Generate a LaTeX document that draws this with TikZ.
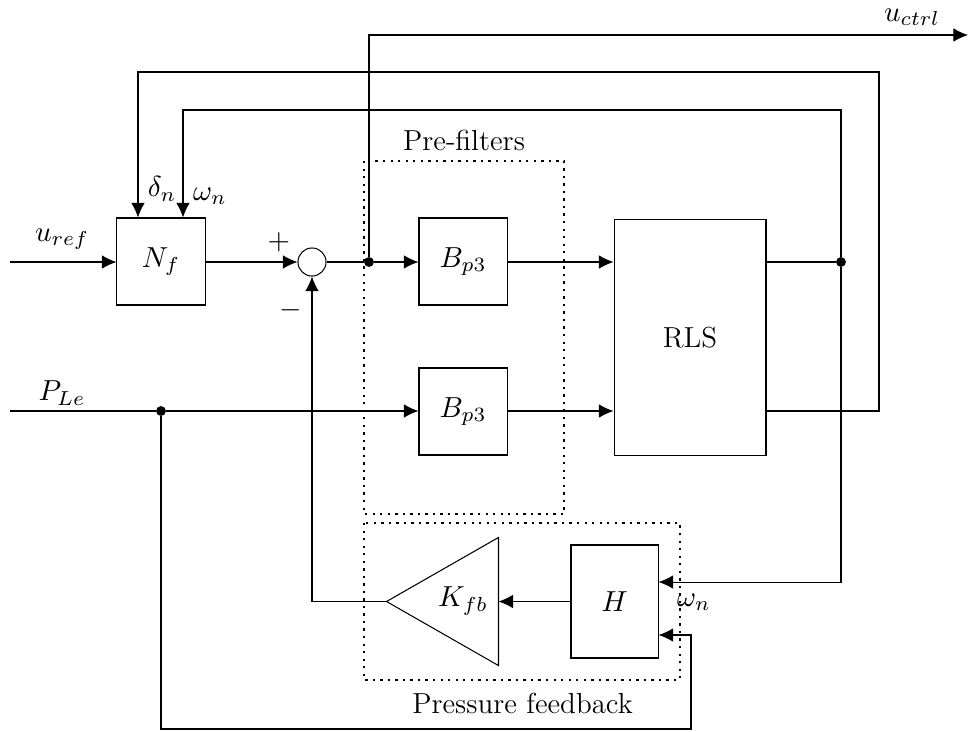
\RequirePackage{fix-cm}
\documentclass[tikz,border=0pt]{standalone}
\usetikzlibrary{arrows.meta,calc}
\begin{document}
\begin{tikzpicture}[x=0.385pt,y=-0.385pt,
  every node/.append style={font=\fontsize{11.15}{13.5}\selectfont},
  blk/.style={draw,line width=0.4pt,inner sep=0pt},
  arr/.style={-{Latex[length=5.6pt,width=5.2pt]}},
  dotbox/.style={line width=0.9pt,dash pattern=on 0.9pt off 2pt},
  junc/.style={circle,fill,inner sep=0pt,minimum size=3.8pt},
  lbl/.style={inner sep=0pt}]
\useasboundingbox (0,0) rectangle (968,731);
% blocks
\node[blk,minimum width=33.9pt,minimum height=33.5pt] (Nf) at (161,261.5) {$N_f$};
\node[draw,circle,minimum size=10.8pt,inner sep=0pt] (sum) at (312,262) {};
\node[blk,minimum width=33.9pt,minimum height=33.5pt] (B1) at (463,261.5) {$B_{p3}$};
\node[blk,minimum width=33.9pt,minimum height=33.5pt] (B2) at (463,411.5) {$B_{p3}$};
\node[blk,minimum width=58.5pt,minimum height=90.5pt] (RLS) at (690,337.5) {RLS};
\node[blk,minimum width=33.5pt,minimum height=43.5pt] (H) at (614.5,601.5) {$H$};
\node[minimum width=42.7pt,minimum height=48.9pt,inner sep=0pt] (K) at (442.5,601.5) {};
\draw (K.west) -- (K.north east) -- (K.south east) -- cycle;
\node[lbl] (Klab) at (463,601) {$K_{fb}$};
% junctions
\node[junc] (dA) at (369,262) {};
\node[junc] (dB) at (841,262) {};
\node[junc] (dC) at (161,411) {};
% coordinates
\coordinate (uin) at (10,262);
\coordinate (pin) at (10,411);
\coordinate (uout) at (968,35);
\coordinate (tA) at (138,72);
\coordinate (tB) at (183,110);
\coordinate (rB) at (879,411);
\coordinate (bl) at (161,729);
\coordinate (br) at (691,729);
% connectors
\draw[arr] (uin) -- (uin -| Nf.west);
\draw[arr] (Nf.east |- sum) -- (sum.west);
\draw (sum.east) -- (dA);
\draw[arr] (dA) -- (dA -| B1.west);
\draw[arr] (dA) |- (uout);
\draw[arr] (B1.east |- dA) -- (dA -| RLS.west);
\draw[arr] (B2.east |- dC) -- (dC -| RLS.west);
\draw (pin) -- (dC);
\draw[arr] (dC) -- (dC -| B2.west);
\draw (RLS.east |- dB) -- (dB);
\draw[arr] (dB) |- (tB) -- (tB |- Nf.north);
\draw[arr] (RLS.east |- rB) -- (rB) |- (tA) -- (tA |- Nf.north);
\draw[arr] (dB) |- ([yshift=7.5pt]H.east);
\draw[arr] (dC) -- (bl) -- (br) |- ([yshift=-12.9pt]H.east);
\draw[arr] (H.west) -- (K.east);
\draw[arr] (K.west) -| (sum.south);
% dotted groups
\draw[dotbox] (364,161) rectangle (564,514);
\draw[dotbox] (364,523) rectangle (680,680);
% labels
\node (lpre) at (464,140) {Pre-filters};
\node (lpf) at (522.5,703) {Pressure feedback};
\node[lbl] (luref) at (62,239) {$u_{ref}$};
\node[lbl] (lple) at (62,393) {$P_{Le}$};
\node[lbl] (luctrl) at (912,17) {$u_{ctrl}$};
\node[lbl] (ldelta) at (162,189) {$\delta_n$};
\node[lbl] (lomega) at (210,196) {$\omega_n$};
\node[lbl] (lplus) at (279,242) {$+$};
\node[lbl] (lminus) at (291,310) {$-$};
\node[lbl] (lomegah) at (694,602) {$\omega_n$};
\end{tikzpicture}
\end{document}
